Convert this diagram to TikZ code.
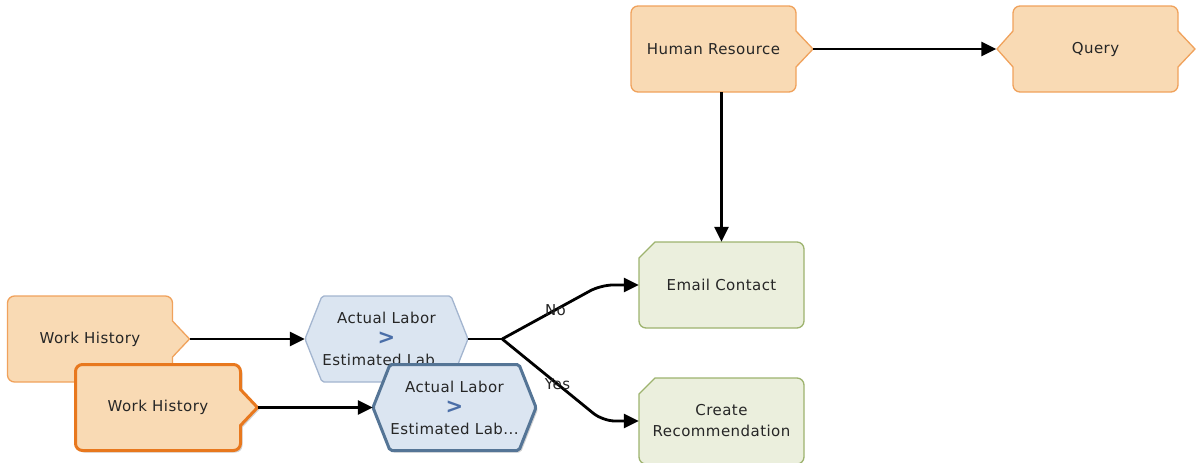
\documentclass[tikz,border=0pt]{standalone}
\usepackage{fontspec}
\setmainfont{DejaVu Sans}[LetterSpace=3]
\usetikzlibrary{positioning,arrows.meta,calc,shadows}
\definecolor{srcfill}{HTML}{F9DAB4}
\definecolor{srcdraw}{HTML}{F0A25C}
\definecolor{srcdark}{HTML}{E8781E}
\definecolor{hexfill}{HTML}{DBE5F1}
\definecolor{hexdraw}{HTML}{A3B5CF}
\definecolor{hexdark}{HTML}{557596}
\definecolor{actfill}{HTML}{EBEFDD}
\definecolor{actdraw}{HTML}{9DB36E}
\definecolor{gtblue}{HTML}{4A6EA8}
\newcommand{\gtmark}{\textcolor{gtblue}{\fontsize{21}{21}\selectfont\bfseries >}}
% source box: flat left side, point on the right
\newcommand{\srcnode}[4][]{%
  \draw[srcline,#1] ($#3+(-82.5,-43)$) [rounded corners=7pt] -- ++(165,0)
    [sharp corners] -- ++(0,25) -- ++(17,18) -- ++(-17,18)
    [rounded corners=7pt] -- ++(0,25) -- ++(-165,0) -- cycle;
  \node[body] (#2) at #3 {#4};
  \coordinate (#2-out) at ($#3+(99.5,0)$);
}
% query box: points on both sides
\newcommand{\qnode}[3]{%
  \draw[srcline] ($#2+(-82.5,-43)$) [rounded corners=7pt] -- ++(165,0)
    [sharp corners] -- ++(0,25) -- ++(17,18) -- ++(-17,18)
    [rounded corners=7pt] -- ++(0,25) -- ++(-165,0)
    [sharp corners] -- ++(0,-25) -- ++(-16,-18) -- ++(16,-18)
    [rounded corners=7pt] -- cycle;
  \node[qbody] (#1) at #2 {#3};
}
% decision hexagon
\newcommand{\hexnode}[4][]{%
  \draw[hexline,#1] ($#3+(-81.5,0)$) -- ++(17,-43) -- ++(129,0) -- ++(17,43)
    -- ++(-17,43) -- ++(-129,0) -- cycle;
  \node[hexbody] (#2) at #3 {#4};
}
% action box, cut top-left corner
\newcommand{\actnode}[3]{%
  \draw[actline] ($#2+(-82.5,0)$) -- ++(0,-27) -- ++(16,-16) [rounded corners=7pt]
    -- ++(149,0) -- ++(0,86) -- ++(-165,0) -- cycle;
  \node[body] (#1) at #2 {#3};
}
\tikzset{
  >={Triangle[length=15pt,width=14pt]},
  body/.style={rectangle,minimum width=165pt,minimum height=86pt,inner sep=0pt,
    align=center,font=\fontsize{15}{21}\selectfont,text=black!85},
  hexbody/.style={body,minimum width=163pt},
  qbody/.style={body,minimum width=198pt},
  srcline/.style={draw=srcdraw,fill=srcfill,line width=1.3pt},
  srcsel/.style={draw=srcdark,line width=3pt,
    drop shadow={shadow xshift=2pt,shadow yshift=-2pt,opacity=.35}},
  hexline/.style={draw=hexdraw,fill=hexfill,line width=1.3pt,rounded corners=2pt},
  hexsel/.style={draw=hexdark,line width=3pt,
    drop shadow={shadow xshift=2pt,shadow yshift=-2pt,opacity=.35}},
  actline/.style={draw=actdraw,fill=actfill,line width=1.3pt},
  flow/.style={->,line width=2.8pt},
  wire/.style={line width=2.8pt},
  flowlbl/.style={font=\fontsize{15}{15}\selectfont,text=black!85,inner sep=1pt},
}
\begin{document}
\begin{tikzpicture}[x=1pt,y=-1pt]
  \useasboundingbox (0,0) rectangle (1197,463);
  \srcnode{hr}{(713.5,49)}{Human Resource}
  \qnode{query}{(1095.5,49)}{Query}
  \actnode{email}{(721.5,285)}{Email Contact}
  \actnode{rec}{(721.5,421)}{Create\\Recommendation}
  \srcnode{wh1}{(90,339)}{Work History}
  \srcnode[srcsel]{wh2}{(158,407.5)}{Work History}
  \hexnode{hex1}{(386.5,339)}{Actual Labor\\\gtmark\\Estimated Lab...}
  \hexnode[hexsel]{hex2}{(454.5,407.5)}{Actual Labor\\\gtmark\\Estimated Lab...}
  \coordinate[right=34pt of hex1.east] (split);
  % connectors
  \draw[flow] (hr-out) -- (query.west);
  \draw[flow] (hr.south -| email.north) -- (email.north);
  \draw[flow] (wh1-out) -- (hex1.west);
  \draw[flow] (wh2-out) -- (hex2.west);
  \draw[wire] (hex1.east) -- (split);
  \draw[flow,rounded corners=12pt] (split) -- node[flowlbl,pos=.54] {No}
    ($(email.west)+(-38,0)$) -- (email.west);
  \draw[flow,rounded corners=12pt] (split) -- node[flowlbl,pos=.55] {Yes}
    ($(rec.west)+(-36,0)$) -- (rec.west);
\end{tikzpicture}
\end{document}
